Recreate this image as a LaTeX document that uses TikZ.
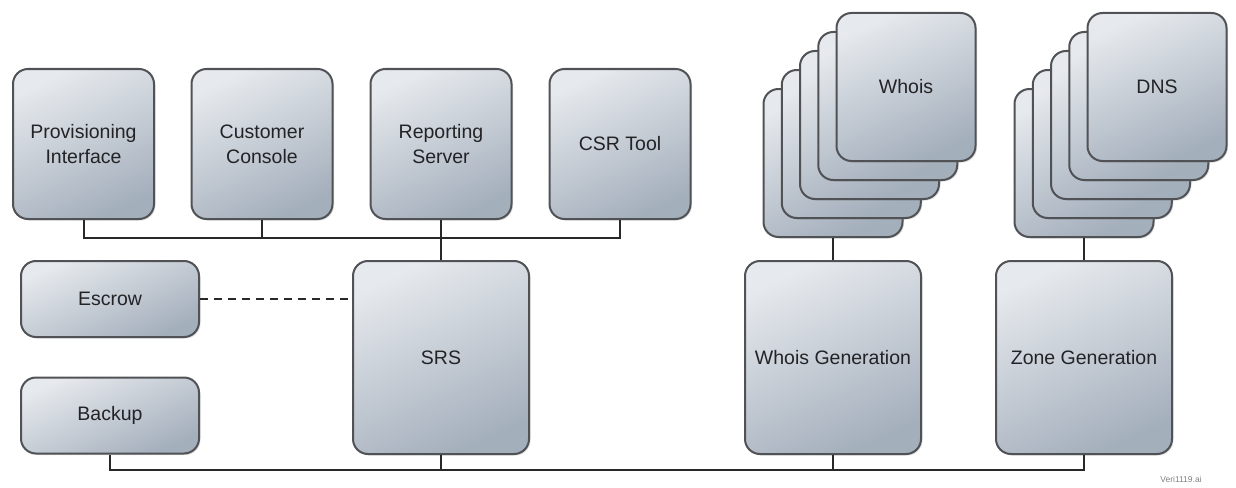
\documentclass[tikz,border=0pt]{standalone}
\usepackage{fontspec}
\setmainfont{Liberation Sans}
\usetikzlibrary{positioning, shadows}
\definecolor{boxtop}{RGB}{230,233,237}
\definecolor{boxbottom}{RGB}{164,175,188}
\definecolor{boxline}{RGB}{80,82,86}
\definecolor{busline}{RGB}{40,40,40}
\definecolor{textgray}{RGB}{35,35,38}
\tikzset{sysbox/.style={rounded corners=15pt, draw=boxline, line width=2pt, top color=boxtop, bottom color=boxbottom, shading angle=25, text=textgray, font=\fontsize{19.5}{25}\selectfont, align=center, inner sep=2pt, drop shadow={opacity=0.25, shadow xshift=1.5pt, shadow yshift=-1.5pt}}}
\tikzset{bus/.style={draw=busline, line width=2pt}}

\begin{document}
\begin{tikzpicture}[
        x=1pt, y=-1pt,
        topbox/.style={sysbox, minimum width=141pt, minimum height=150pt},
        sidebox/.style={sysbox, minimum width=178pt, minimum height=76pt},
        mainbox/.style={sysbox, minimum width=176pt, minimum height=193pt},
        stackbox/.style={sysbox, minimum width=139pt, minimum height=148pt},
    ]
        \useasboundingbox (0,0) rectangle (1236,487);
        % Top row
        \node[topbox] (prov) at (83.5, 144) {Provisioning\\Interface};
        \node[topbox] (cust) at (262, 144) {Customer\\Console};
        \node[topbox] (rep) at (441, 144) {Reporting\\Server};
        \node[topbox] (csr) at (620, 144) {CSR Tool};
        % Left side
        \node[sidebox] (escrow) at (110, 299) {Escrow};
        \node[sidebox] (backup) at (110, 415.5) {Backup};
        % Main boxes
        \node[mainbox] (srs) at (441, 357.5) {SRS};
        \node[mainbox] (whoisgen) at (833, 357.5) {Whois Generation};
        \node[mainbox] (zonegen) at (1084, 357.5) {Zone Generation};
        % Stacks
        \foreach \i in {4,3,2,1,0} {
            \node[stackbox] (whois\i) at ({906-18.25*\i}, {87+19*\i}) {\ifnum\i=0 Whois\fi};
            \node[stackbox] (dns\i) at ({1157-18.25*\i}, {87+19*\i}) {\ifnum\i=0 DNS\fi};
        }
        % Buses
        \coordinate (topbus) at (0, 238);
        \coordinate (botbus) at (0, 470);
        \draw[bus] (prov.south) -- (prov.south |- topbus) -- (csr.south |- topbus) -- (csr.south);
        \draw[bus] (cust.south) -- (cust.south |- topbus);
        \draw[bus] (rep.south) -- (rep.south |- srs.north);
        \draw[bus] (backup.south) |- (zonegen.south |- botbus) -- (zonegen.south);
        \draw[bus] (srs.south) -- (srs.south |- botbus);
        \draw[bus] (whoisgen.south) -- (whoisgen.south |- botbus);
        \draw[bus] (whoisgen.north) -- (whoisgen.north |- whois4.south);
        \draw[bus] (zonegen.north) -- (zonegen.north |- dns4.south);
        \draw[bus, dash pattern=on 8pt off 6pt] (escrow.east) -- (escrow.east -| srs.west);
        % Tag
        \node[text=gray, font=\fontsize{8.5}{10}\selectfont] (tag) at (1181, 479) {Veri1119.ai};
    \end{tikzpicture}
\end{document}
